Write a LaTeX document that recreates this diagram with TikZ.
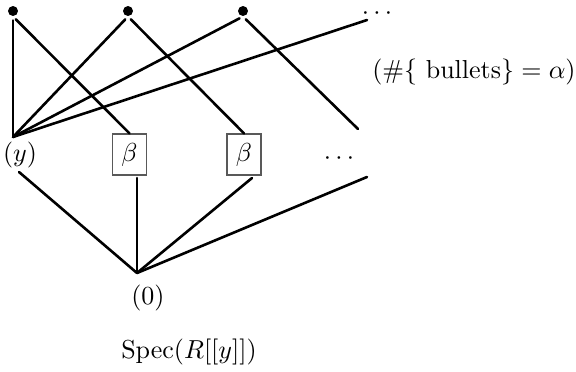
\documentclass[tikz,border=0pt]{standalone}
\usepackage{tikz}
\usetikzlibrary{positioning, calc}
\tikzstyle{pnode} = [%
  circle,
  fill=black,
  inner sep=0pt,
  minimum size=0.135cm
]
\tikzstyle{bnode} = [%
  draw=black!65,
  line width=0.6pt,
  minimum width=0.46cm,
  minimum height=0.55cm,
  inner sep=0pt
]

\begin{document}
\begin{tikzpicture}[%
  x=0.01352cm, y=-0.01352cm,
  spoke/.style={%
    line width=1.0pt,
    line cap=round
  },
  every node/.style={%
    text=black,
    text centered,
    align=center
  }
]
  \useasboundingbox (0,0) rectangle (576,372);

  % Nodes
  \node[pnode] (P1) at (13,11) {};
  \node[pnode] (P2) at (128,11) {};
  \node[pnode] (P3) at (243,11) {};
  \node[inner sep=0pt] (Pd) at (377,14) {$\cdots$};
  \node (Y) at (20,155) {$(y)$};
  \node[bnode] (B1) at (129.5,154.5) {$\beta$};
  \node[bnode] (B2) at (244,154.5) {$\beta$};
  \node (Bd) at (339,159) {$\cdots$};
  \node (Z) at (148,298) {$(0)$};
  \node (S) at (189,352) {$\mathrm{Spec}(R[[y]])$};
  \node (N) at (474,72) {$(\#\{\mbox{ bullets}\} = \alpha)$};

  % Free ends
  \coordinate (Yt) at (13,137);
  \coordinate (Yb) at (19,172);
  \coordinate (Zt) at (137,273);
  \coordinate (Pe) at (358,129);
  \coordinate (Ps) at (367,20);
  \coordinate (B1b) at (137,178);
  \coordinate (B2b) at (252,178);
  \coordinate (Be) at (367,177);

  % Upper edges
  \draw[spoke,shorten <=1.5pt] (P1.south) -- (Yt);
  \draw[spoke,shorten <=1.5pt] (P1.south) -- (B1.north);
  \draw[spoke,shorten <=1.5pt] (P2.south) -- (Yt);
  \draw[spoke,shorten <=1.5pt] (P2.south) -- (B2.north);
  \draw[spoke,shorten <=1.5pt] (P3.south) -- (Yt);
  \draw[spoke,shorten <=1.5pt] (P3.south) -- (Pe);
  \draw[spoke] (Ps) -- (Yt);

  % Lower edges
  \draw[spoke] (Yb) -- (Zt);
  \draw[spoke] (B1b) -- (Zt);
  \draw[spoke] (B2b) -- (Zt);
  \draw[spoke] (Be) -- (Zt);

\end{tikzpicture}
\end{document}
